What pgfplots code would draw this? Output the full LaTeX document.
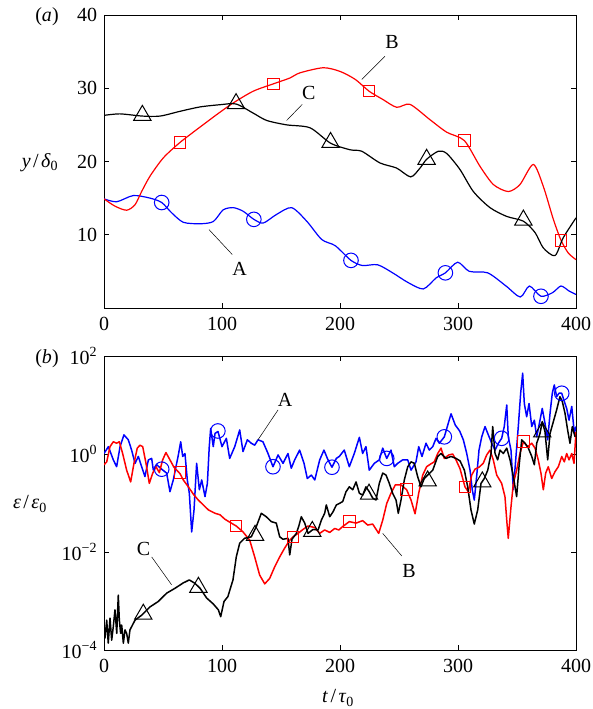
\documentclass[border=0pt]{standalone}
\usepackage{fontspec}
\setmainfont{Liberation Serif}
\usepackage{pgfplots}
\pgfplotsset{compat=1.18}
\begin{document}
\fontsize{20}{24}\selectfont
\begin{tikzpicture}[x=1pt,y=1pt]
\useasboundingbox (0pt,0pt) rectangle (592pt,709pt);
\pgfplotsset{
  myax/.style={
    scale only axis, anchor=south west,
    width=472pt, xmin=0, xmax=400,
    xtick={0,100,200,300,400},
    tick align=inside, major tick length=5pt,
    axis line style={line width=0.7pt},
    every tick/.style={line width=0.7pt, black},
    tick label style={font=\fontsize{20}{24}\selectfont},
    xticklabel style={yshift=-2.5pt},
    /pgf/number format/assume math mode=true,
    clip=true,
  },
  cA/.style={color={rgb,255:red,0;green,0;blue,255}},
  cB/.style={color={rgb,255:red,255;green,0;blue,0}},
  cC/.style={color=black},
}
% ---------------- (a) ----------------
\begin{axis}[myax, at={(104pt,401pt)}, height=293pt, ymin=0, ymax=40,
  ytick={10,20,30,40}]
\addplot[cA, line width=1.2pt, smooth, tension=0.45] coordinates {
(0,14.9) (10.7,14.5) (24.8,15.35) (39,15.0) (48.9,14.4) (57.3,13.0) (67.2,11.7)
(81.4,11.5) (92.6,11.8) (101,13.4) (109.6,13.7) (118,13.2) (127,12.1) (135,11.6)
(146,12.75) (159,13.7) (171.8,11.85) (184.5,9.35) (196,8.5) (209.3,6.5) (219,5.8)
(231.9,5.9) (244.6,4.8) (257.4,3.5) (270.6,2.6) (281.4,4.1) (289.3,4.8) (299.7,6.25)
(309.6,5.0) (325.2,4.8) (340.7,3.0) (352.8,1.5) (360.5,3.0) (370.3,1.6) (380.2,2.1)
(387.3,3.0) (394.3,2.3) (400,1.85)};
\addplot[cB, line width=1.2pt, smooth, tension=0.45] coordinates {
(0,14.9) (9.3,13.9) (19.2,13.35) (26.3,14.1) (31.9,15.9) (39,18.0) (50.3,20.5)
(64.4,22.6) (81.4,24.7) (95.5,26.4) (109.6,28.0) (126.5,29.6) (143.5,30.6)
(157.6,31.4) (166,32.1) (185.8,32.8) (200,32.3) (213,31.2) (224.6,29.6) (236,28.5)
(248,27.4) (259.3,27.8) (276.3,25.7) (290.4,24.0) (305.4,22.85) (318.6,19.35)
(330,16.85) (342.6,15.9) (352.5,16.85) (363.8,19.6) (372.3,16.6) (380.8,12.1)
(387.3,9.25) (393.5,7.5) (400,6.6)};
\addplot[cC, line width=1.2pt, smooth, tension=0.45] coordinates {
(0,26.3) (13.6,26.5) (32.5,26.2) (47.5,26.2) (64.4,26.85) (81.4,27.45) (98.3,27.75)
(111.9,27.85) (126.5,26.6) (137.9,25.6) (154.8,25.0) (174.6,24.6) (192,22.5)
(208.5,21.6) (218.4,21.4) (233.9,19.8) (248,19.1) (259.9,17.9) (267.8,19.1)
(273.4,20.3) (283.3,21.4) (290.4,21.1) (301.7,18.9) (313,15.9) (327.1,13.7)
(341.3,12.5) (355.4,11.85) (365.3,10.3) (372.3,8.2) (382.2,7.15) (389.2,9.6) (400,12.3)};
% markers
\addplot[cA, only marks, mark=o, mark size=7.3pt, line width=1pt] coordinates {
(48.9,14.4) (127,12.1) (209.3,6.5) (289.3,4.8) (370.3,1.6)};
\addplot[cB, only marks, mark=square, mark size=5.8pt, line width=1pt] coordinates {
(64.4,22.6) (143.5,30.6) (224.6,29.6) (305.4,22.85) (387.3,9.25)};
\addplot[cC, only marks, mark=triangle, mark size=10pt, line width=1pt] coordinates {
(32.5,26.3) (111.9,27.9) (192,22.6) (273.4,20.3) (355.4,12.0)};
% annotations
\draw[line width=0.5pt] (axis cs:89,10.7) -- (axis cs:108.7,7.3);
\node[font=\fontsize{20}{24}\selectfont] at (axis cs:115,5.3) {A};
\draw[line width=0.5pt] (axis cs:218.4,31.2) -- (axis cs:238.1,34.35);
\node[font=\fontsize{20}{24}\selectfont] at (axis cs:244,36.3) {B};
\draw[line width=0.5pt] (axis cs:154.8,25.6) -- (axis cs:168,27.8);
\node[font=\fontsize{20}{24}\selectfont] at (axis cs:173.5,29.3) {C};
\end{axis}
% ---------------- (b) ----------------
\begin{axis}[myax, at={(104pt,59pt)}, height=294pt, ymin=-4, ymax=2,
  ytick={-4,-2,0,2},
  yticklabels={10\textsuperscript{−4},10\textsuperscript{−2},10\textsuperscript{0},10\textsuperscript{2}}]
\addplot[cA, line width=1.5pt, line join=round] coordinates {
(0,0.01) (3.7,0.15) (7.9,-0.12) (10.7,-0.26) (13.6,0.15) (16.9,0.39) (20.6,0.29)
(23.4,0.08) (26.3,-0.19) (29.1,-0.05) (31.9,-0.26) (34.7,-0.46) (37.6,-0.12)
(40.4,-0.09) (41.8,-0.33) (44.7,-0.22) (48.9,-0.31) (53.1,-0.39) (55.9,-0.77)
(58.7,-0.53) (61,-0.26) (63,-0.02) (65,0.25) (66.7,-0.05) (68.6,0.01) (70.6,-0.53)
(72.3,-0.8) (74.3,-1.59) (76.3,-1.14) (78.5,-0.19) (80.8,-0.73) (82.8,-0.53)
(85.6,-0.87) (87.6,-0.6) (89.2,0.15) (90.4,0.52) (92.6,0.15) (94.1,0.42) (96.6,0.46)
(100,0.15) (103.7,0.32) (106.5,-0.09) (110.8,0.15) (115,0.49) (117.8,0.05)
(121.5,0.29) (124.8,0.22) (127.7,0.18) (130.5,0.29) (134.7,0.25) (139,0.01)
(143.2,-0.26) (147.5,-0.02) (151.7,-0.19) (155.9,0.01) (158.7,-0.29) (161.6,-0.12)
(165.8,0.08) (169.5,-0.19) (172.3,-0.5) (175.7,-0.43) (178.6,-0.53) (182.8,-0.12)
(186.4,0.08) (189.8,-0.12) (193.2,-0.27) (196.9,-0.09) (199.4,-0.05) (203.6,0.08)
(207.9,-0.26) (212.1,0.01) (216.4,0.34) (219.2,0.01) (222,0.15) (224.8,-0.33)
(229.1,-0.19) (233.3,-0.12) (236.2,0.12) (239.6,-0.09) (243.2,0.08) (246,-0.26)
(248.9,-0.19) (253.1,-0.12) (257.4,-0.12) (260.2,-0.33) (264.4,-0.16) (266.7,0.15)
(269.5,-0.05) (272.9,0.22) (275.7,0.08) (278.6,0.15) (281.4,0.32) (284.2,0.22)
(288.4,0.35) (291.3,0.59) (294.1,0.82) (297.7,0.59) (301.4,0.47) (304.5,0.29)
(307.4,0.01) (310.2,-0.33) (312.1,-0.73) (313.8,-0.94) (315.8,-0.46) (317.8,0.08)
(320.1,0.35) (322.9,0.56) (325.7,0.39) (328.6,0.22) (331.4,0.08) (334.2,0.22)
(337,0.32) (339.2,0.56) (341.3,1.0) (342.6,0.35) (344.9,0.08) (346.9,-0.73)
(348.9,-0.12) (351.1,0.56) (353.1,1.24) (354.8,1.65) (356.2,1.03) (358.2,0.76)
(360.2,1.03) (362.5,0.56) (364.7,0.69) (366.7,0.35) (369.5,0.69) (371.4,0.93)
(373.7,0.63) (376,0.29) (378,0.83) (379.9,1.24) (381.6,1.41) (383.6,1.17)
(385.6,1.24) (387.9,1.24) (390.1,1.07) (392.1,0.93) (394.1,0.69) (396.4,0.97)
(398.6,0.42) (400,0.56)};
\addplot[cB, line width=1.5pt, line join=round] coordinates {
(0,-0.22) (2.3,-0.16) (5.1,0.15) (7.9,0.25) (10.7,0.22) (13,0.25) (15.8,0.01)
(19.2,-0.33) (22.6,-0.57) (25.4,-0.19) (28.2,0.12) (30.5,0.18) (32.8,0.15)
(35.6,-0.19) (38.4,-0.6) (41.3,-0.39) (44.1,-0.26) (46.9,-0.38) (49.7,-0.12)
(52.5,0.03) (55.9,-0.12) (59.3,-0.27) (64.4,-0.40) (67.2,-0.53) (71.5,-0.67)
(75.7,-0.82) (79.9,-0.94) (84.2,-1.04) (88.4,-1.14) (94.1,-1.21) (98.3,-1.24)
(102.4,-1.33) (107.9,-1.41) (112.1,-1.47) (117.8,-1.59) (123.5,-1.76) (127.7,-2.1)
(131.9,-2.47) (136.2,-2.65) (140.4,-2.54) (144.7,-2.3) (148.9,-2.1) (153.1,-1.92)
(157.4,-1.76) (160.2,-1.69) (164.4,-1.62) (168.6,-1.54) (172.9,-1.47) (178.6,-1.5)
(182.8,-1.62) (187,-1.55) (191.3,-1.6) (195.5,-1.52) (199,-1.55) (202.3,-1.48)
(207.9,-1.38) (213.6,-1.41) (219.2,-1.36) (223.5,-1.45) (227.7,-1.43) (232.8,-1.62)
(236.2,-1.35) (239.6,-1.01) (243.2,-0.8) (246.9,-0.63) (251.7,-0.63) (256.5,-0.73)
(260.2,-0.94) (263.6,-1.22) (266.7,-0.8) (270.1,-0.43) (273.4,-0.26) (277.1,-0.2)
(279.9,-0.16) (282.8,0.01) (285.6,0.12) (288.4,-0.09) (292.1,-0.02) (295.5,0)
(298.3,-0.12) (301.7,-0.3) (305.9,-0.67) (308.7,-0.77) (311.6,-0.43) (314.4,-0.31)
(317.8,-0.27) (321.4,-0.19) (324.3,-0.02) (327.1,0.08) (329.9,-0.12) (332.8,-0.43)
(337,-0.6) (339.8,-0.87) (341.5,-1.41) (342.6,-1.72) (344.9,-1.08) (346.9,-0.6)
(349.7,-0.33) (352.5,0.01) (355.4,0.25) (359.1,0.15) (362.5,0.22) (365.3,0.12)
(368,-0.12) (370.3,-0.39) (372.3,-0.73) (374.3,-0.39) (376.5,-0.26) (379.4,-0.5)
(382.2,-0.36) (385,-0.26) (387.9,-0.05) (390.1,-0.16) (392.1,0.01) (394.1,-0.12)
(396.4,0.01) (398.3,-0.19) (400,0.45)};
\addplot[cC, line width=1.5pt, line join=round] coordinates {
(0,-3.52) (0.8,-3.76) (2.3,-3.39) (3.6,-3.86) (5.1,-3.35) (6.5,-3.8) (7.9,-3.52)
(9.3,-3.18) (10.8,-3.66) (12.1,-2.88) (13,-3.39) (14.1,-3.66) (15,-3.49)
(16.4,-3.86) (17.8,-3.59) (19.2,-3.66) (20.6,-3.86) (22,-3.59) (23.5,-3.52)
(26.3,-3.39) (31.9,-3.29) (39,-3.12) (46,-3.01) (53.1,-2.84) (60.2,-2.74)
(67.2,-2.63) (72.3,-2.57) (77.1,-2.64) (81.4,-2.74) (87,-2.94) (92.6,-3.06)
(96.9,-3.18) (98.9,-3.32) (101.7,-3.01) (105,-2.91) (107,-2.75) (109.3,-2.57)
(112.1,-2.1) (115,-1.82) (119.2,-1.72) (124.8,-1.69) (129.1,-1.48) (133.3,-1.21)
(137.5,-1.28) (141.8,-1.38) (146,-1.41) (148.9,-1.69) (151.7,-1.74) (155.9,-1.72)
(157.4,-2.06) (159.3,-1.74) (163,-1.62) (165,-1.48) (167.2,-1.28) (170.1,-1.41)
(172.9,-1.62) (177.1,-1.54) (181.4,-1.55) (184.2,-1.35) (187,-1.21) (188.4,-1.04)
(191.3,-1.28) (194.1,-1.18) (196.9,-1.04) (199.4,-1.01) (202.3,-0.97) (205.1,-0.77)
(207.9,-0.67) (210.8,-0.73) (213.6,-0.57) (216.4,-0.8) (219.2,-0.84) (222,-0.67)
(224.8,-0.77) (227.7,-0.9) (230.5,-0.94) (233.3,-0.6) (236.2,-0.39) (239,-0.43)
(241.8,-0.6) (244.6,-0.8) (247.5,-0.94) (249.4,-1.21) (251.7,-0.94) (254.5,-0.53)
(257.4,-0.26) (260.2,-0.16) (263,-0.19) (265.8,-0.46) (268.6,-0.67) (271.4,-0.5)
(274.3,-0.43) (278.6,-0.33) (282.8,-0.05) (285.6,0.01) (289.8,-0.09) (294.1,-0.05)
(298.3,-0.09) (301.7,-0.14) (305.4,-0.33) (308.2,-0.67) (311,-1.14) (313.8,-1.43)
(316.7,-1.14) (319.5,-0.6) (322.3,-0.5) (325.2,-0.33) (328,0.01) (329.4,0.56)
(331.4,0.01) (333.6,-0.12) (335.6,0.08) (338.4,0.01) (341.3,0.12) (344.1,-0.12)
(346.9,-0.46) (349.7,-0.87) (351.7,-0.26) (354,0.29) (356.8,0.22) (359.6,0.12)
(362.5,-0.05) (364.7,-0.22) (366.7,0.22) (369.5,0.42) (371.4,0.66) (373.7,0.46)
(376,-0.12) (378,0.42) (380.8,0.66) (383.6,0.9) (386.4,1.17) (388.4,1.07)
(390.7,0.83) (392.9,0.49) (394.9,0.22) (396.9,0.56) (399.2,0.35)};
% markers
\addplot[cA, only marks, mark=o, mark size=7.3pt, line width=1pt] coordinates {
(48.9,-0.31) (96.5,0.47) (143.2,-0.26) (193.2,-0.27) (239.6,-0.09) (288.4,0.35)
(337,0.32) (387.9,1.24)};
\addplot[cB, only marks, mark=square, mark size=5.8pt, line width=1pt] coordinates {
(64.4,-0.38) (112,-1.47) (160.2,-1.69) (207.9,-1.38) (256.5,-0.73) (305.9,-0.67)
(355.4,0.25)};
\addplot[cC, only marks, mark=triangle, mark size=10pt, line width=1pt] coordinates {
(33.3,-3.27) (80,-2.72) (128,-1.66) (176.5,-1.58) (224.6,-0.82) (274.3,-0.55)
(320.6,-0.57) (371.4,0.45)};
% annotations
\draw[line width=0.5pt] (axis cs:130.5,0.29) -- (axis cs:147.5,0.9);
\node[font=\fontsize{20}{24}\selectfont] at (axis cs:153.5,1.1) {A};
\draw[line width=0.5pt] (axis cs:236.2,-1.62) -- (axis cs:252.3,-2.08);
\node[font=\fontsize{20}{24}\selectfont] at (axis cs:258.5,-2.38) {B};
\draw[line width=0.5pt] (axis cs:57.3,-2.67) -- (axis cs:40.4,-2.1);
\node[font=\fontsize{20}{24}\selectfont] at (axis cs:33.5,-1.93) {C};
\end{axis}
% ---------------- labels ----------------
\node at (47pt,692pt) {(\textit{a})};
\node at (40pt,546pt) {\textit{y}\hspace{0.12em}/\hspace{0.12em}\textit{δ}\textsubscript{0}};
\node at (47pt,350pt) {(\textit{b})};
\node at (30pt,205pt) {\textit{ε}\hspace{0.12em}/\hspace{0.12em}\textit{ε}\textsubscript{0}};
\node at (338pt,11pt) {\textit{t}\hspace{0.12em}/\hspace{0.12em}\textit{τ}\textsubscript{0}};
\end{tikzpicture}
\end{document}
